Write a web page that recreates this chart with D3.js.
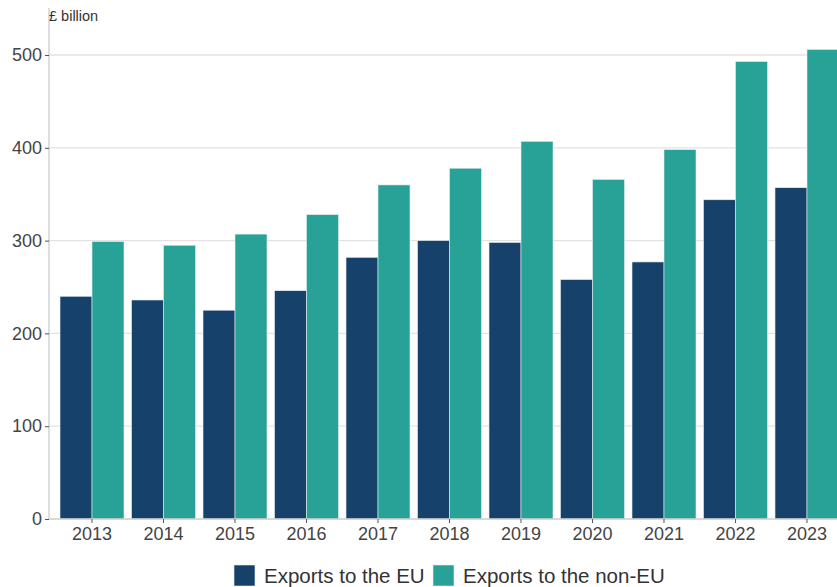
<!DOCTYPE html>
<html>
<head>
<meta charset="utf-8">
<script src="https://cdn.jsdelivr.net/npm/d3@7"></script>
<style>
  html, body { margin: 0; padding: 0; background: #fff; }
  svg { display: block; font-family: "Liberation Sans", Arial, sans-serif; }
</style>
</head>
<body>
<svg id="chart" width="837" height="587"></svg>
<script>
// UK exports of goods and services, £ billion
const years = ["2013","2014","2015","2016","2017","2018","2019","2020","2021","2022","2023"];
const exportsEU    = [240, 236, 225, 246, 282, 300, 298, 258, 277, 344, 357];
const exportsNonEU = [299, 295, 307, 328, 360, 378, 407, 366, 398, 493, 506];
const seriesNames  = ["Exports to the EU", "Exports to the non-EU"];
const seriesColors = ["#16416b", "#28a197"];
const yTicks = [0, 100, 200, 300, 400, 500];

const svg = d3.select("#chart");
const W = 837, H = 587;
const plotLeft = 49, plotBottom = 519, plotTop = 55;

const y = d3.scaleLinear().domain([0, 500]).range([plotBottom, plotTop]);
const x0 = d3.scaleBand().domain(years).range([plotLeft, 850])
  .paddingInner(0.105).paddingOuter(0.154);
const x1 = d3.scaleBand().domain([0, 1]).range([0, x0.bandwidth()]);

// horizontal gridlines
svg.append("g").selectAll("line").data(yTicks.filter(d => d > 0)).join("line")
  .attr("x1", plotLeft).attr("x2", W)
  .attr("y1", d => y(d)).attr("y2", d => y(d))
  .attr("stroke", "#e3e3e3").attr("stroke-width", 1.3);

// bars
const rows = years.map((yr, i) => ({ year: yr, vals: [exportsEU[i], exportsNonEU[i]] }));
const groups = svg.append("g").selectAll("g").data(rows).join("g")
  .attr("transform", d => `translate(${x0(d.year)},0)`);
groups.selectAll("rect").data(d => d.vals.map((v, k) => ({ v, k }))).join("rect")
  .attr("x", d => x1(d.k))
  .attr("y", d => y(d.v))
  .attr("width", x1.bandwidth())
  .attr("height", d => plotBottom - y(d.v))
  .attr("fill", d => seriesColors[d.k])
  .attr("stroke", "#e6eef0").attr("stroke-width", 0.6);

// y axis
const yAxis = svg.append("g").attr("transform", `translate(${plotLeft},0)`)
  .call(d3.axisLeft(y).tickValues(yTicks).tickSize(4).tickPadding(3));
yAxis.select(".domain").attr("stroke", "#cccccc").attr("stroke-width", 1.3)
  .attr("d", `M0,${plotBottom}V8`);
yAxis.selectAll(".tick line").attr("stroke", "#555");
yAxis.selectAll(".tick text").attr("fill", "#444").style("font-size", "18px");

// x axis
const xAxis = svg.append("g").attr("transform", `translate(0,${plotBottom})`)
  .call(d3.axisBottom(x0).tickSize(4).tickPadding(4));
xAxis.select(".domain").attr("stroke", "#cccccc").attr("stroke-width", 1.3)
  .attr("d", `M${plotLeft},0H${W}`);
xAxis.selectAll(".tick line").attr("stroke", "#555");
xAxis.selectAll(".tick text").attr("fill", "#444").style("font-size", "18px");

// unit label
svg.append("text").attr("x", 49).attr("y", 21)
  .attr("fill", "#333").style("font-size", "14.5px").text("£ billion");

// legend
const legend = svg.append("g");
const legendX = [234, 433];
seriesNames.forEach((name, k) => {
  legend.append("rect").attr("x", legendX[k]).attr("y", 565)
    .attr("width", 21).attr("height", 21)
    .attr("fill", seriesColors[k]).attr("stroke", "#e6eef0").attr("stroke-width", 0.6);
  legend.append("text").attr("x", legendX[k] + 30).attr("y", 583)
    .attr("fill", "#333").style("font-size", "20.5px").text(name);
});
</script>
</body>
</html>
